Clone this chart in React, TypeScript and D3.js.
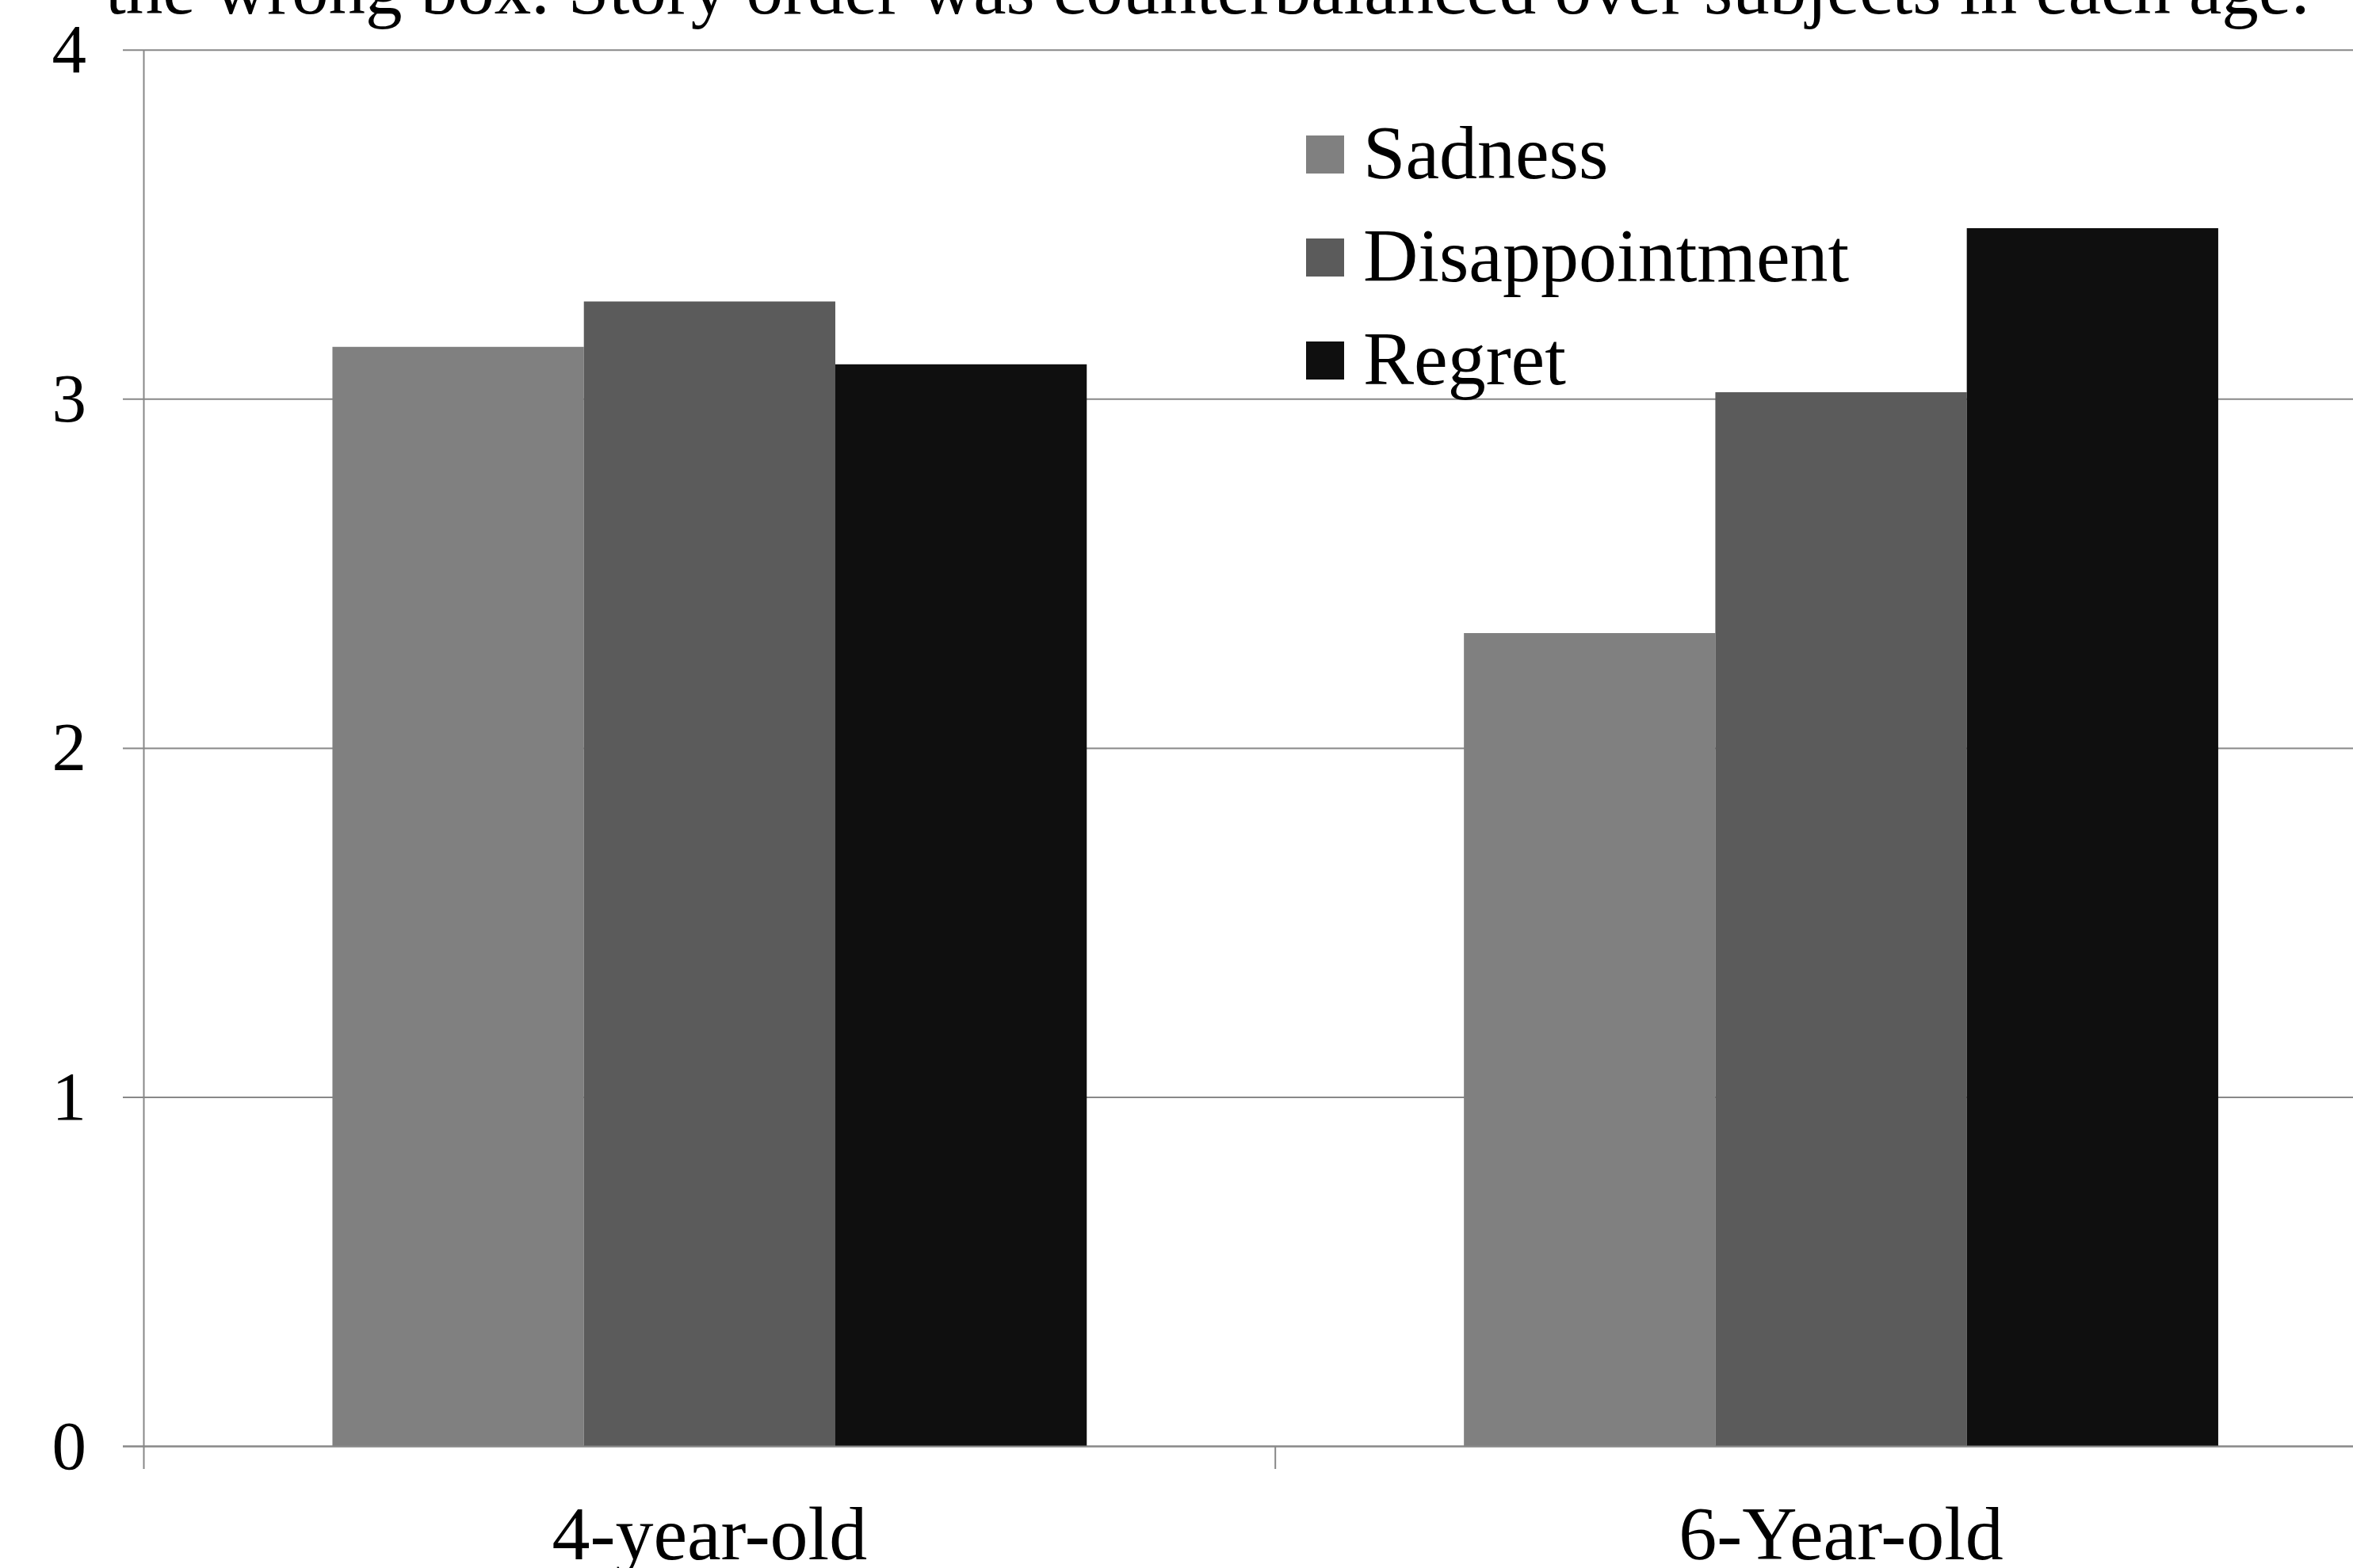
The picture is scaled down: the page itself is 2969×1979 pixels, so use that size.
import React from "react";
import * as d3 from "d3";

const categories = ["4-year-old", "6-Year-old"];
const seriesNames = ["Sadness", "Disappointment", "Regret"];
const sadness = [3.15, 2.33];
const disappointment = [3.28, 3.02];
const regret = [3.1, 3.49];
const yTicks = [0, 1, 2, 3, 4];
const titleText = "the wrong box. Story order was counterbalanced over subjects in each age.";

const seriesValues = [sadness, disappointment, regret];
const colors = ["#808080", "#5b5b5b", "#0f0f0f"];

const W = 2969;
const H = 1979;
const FONT = "'Liberation Serif', 'Times New Roman', serif";

export default function App() {
  const axisX = 181.5;
  const band = 1427.7;
  const x0 = d3.scaleBand<string>().domain(categories).range([axisX, axisX + band * categories.length]).paddingInner(0).paddingOuter(0);
  const x1 = d3.scaleBand<string>().domain(seriesNames).range([0, x0.bandwidth()]).paddingInner(0).paddingOuter(0.75);
  const y = d3.scaleLinear().domain([0, 4]).range([1825.5, 63.3]);

  const gridColor = "#888888";

  return (
    <svg width={W} height={H} style={{ position: "absolute", left: 0, top: 0, background: "#fff" }}>
      <rect x={0} y={0} width={W} height={H} fill="#ffffff" />
      <text x={133} y={16.5} fontFamily={FONT} fontSize={93} fill="#000">{titleText}</text>
      {yTicks.map((t) => (
        <g key={t}>
          <line x1={155} x2={W} y1={y(t)} y2={y(t)} stroke={gridColor} strokeWidth={2} />
          <text x={109} y={y(t) + 28} textAnchor="end" fontFamily={FONT} fontSize={87} fill="#000">{t}</text>
        </g>
      ))}
      {categories.map((c, ci) => (
        <g key={c}>
          {seriesNames.map((s, si) => {
            const v = seriesValues[si][ci];
            const bx = (x0(c) as number) + (x1(s) as number);
            return <rect key={s} x={bx} y={y(v)} width={x1.bandwidth()} height={y(0) - y(v)} fill={colors[si]} />;
          })}
        </g>
      ))}
      <line x1={axisX} x2={axisX} y1={y(4)} y2={1854} stroke={gridColor} strokeWidth={2} />
      <line x1={155} x2={W} y1={y(0)} y2={y(0)} stroke={gridColor} strokeWidth={2} />
      {categories.map((c, ci) => (
        <g key={c + "t"}>
          {ci > 0 && <line x1={x0(c) as number} x2={x0(c) as number} y1={y(0)} y2={1854} stroke={gridColor} strokeWidth={2} />}
          <text x={(x0(c) as number) + x0.bandwidth() / 2} y={1968} textAnchor="middle" fontFamily={FONT} fontSize={96} fill="#000">{c}</text>
        </g>
      ))}
      {seriesNames.map((s, si) => (
        <g key={s + "l"}>
          <rect x={1648} y={171 + si * 130} width={48} height={48} fill={colors[si]} />
          <text x={1720} y={225 + si * 130} fontFamily={FONT} fontSize={96} fill="#000">{s}</text>
        </g>
      ))}
    </svg>
  );
}
